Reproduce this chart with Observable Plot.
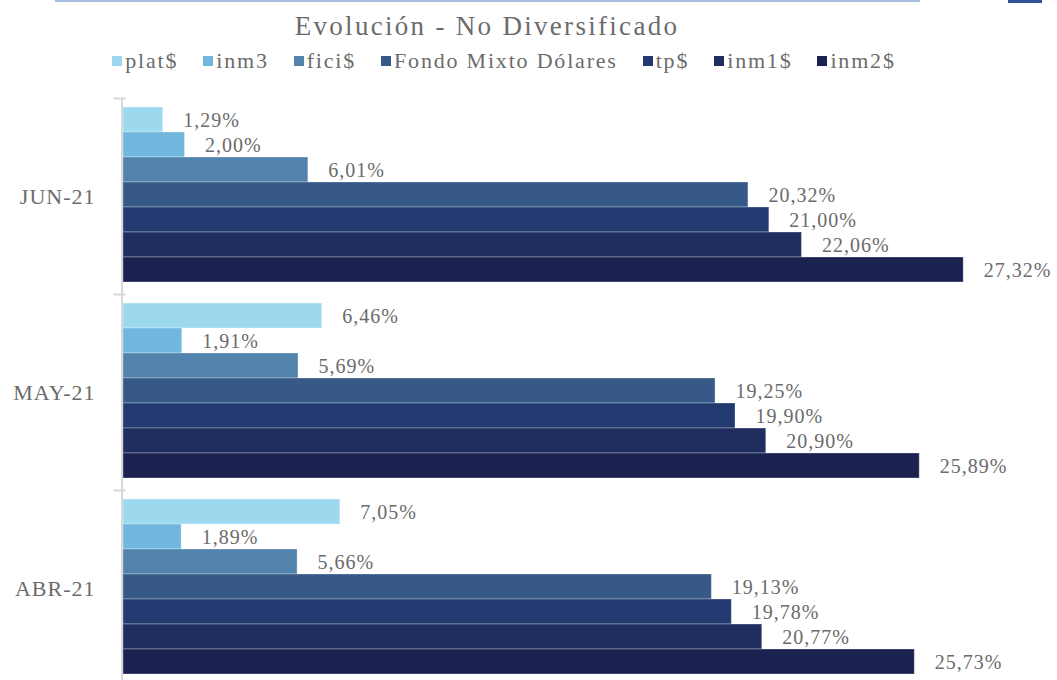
<!DOCTYPE html>
<html>
<head>
<meta charset="utf-8">
<script src="https://cdn.jsdelivr.net/npm/d3@7"></script>
<script src="https://cdn.jsdelivr.net/npm/@observablehq/plot@0.6"></script>
<style>
  html, body { margin: 0; padding: 0; background: #fff; overflow: hidden; }
  #wrap { position: relative; width: 1057px; height: 680px; font-family: "Liberation Serif", serif; color: #6b6b6b; }
  .bar1 { position: absolute; left: 55px; top: 0; width: 865px; height: 2px; background: #a9bde0; }
  .bar2 { position: absolute; left: 1008px; top: 0; width: 34px; height: 3px; background: #2f4f97; }
  #title { position: absolute; left: 0; top: 8px; width: 974px; text-align: center; font-size: 27px; line-height: 36px; letter-spacing: 2.3px; color: #6b6b6b; }
  #legend { position: absolute; left: 0; top: 46px; width: 1008px; display: flex; justify-content: center; gap: 25px; font-size: 22px; line-height: 30px; letter-spacing: 1.8px; color: #6b6b6b; white-space: nowrap; }
  #legend .item { display: flex; align-items: center; }
  #legend .sw { width: 10px; height: 10px; margin-right: 3px; display: inline-block; }
  #chart { position: absolute; left: 0; top: 97px; }
</style>
</head>
<body>
<div id="wrap">
  <div class="bar1"></div>
  <div class="bar2"></div>
  <div id="title">Evolución - No Diversificado</div>
  <div id="legend"></div>
  <div id="chart"></div>
</div>
<script>
const categories = ["JUN-21", "MAY-21", "ABR-21"];
const series = ["plat$", "inm3", "fici$", "Fondo Mixto Dólares", "tp$", "inm1$", "inm2$"];
const valuesJun = [1.29, 2.00, 6.01, 20.32, 21.00, 22.06, 27.32];
const valuesMay = [6.46, 1.91, 5.69, 19.25, 19.90, 20.90, 25.89];
const valuesAbr = [7.05, 1.89, 5.66, 19.13, 19.78, 20.77, 25.73];
const colors = ["#9dd9ee", "#6fb7dc", "#5283ad", "#365987", "#223a70", "#202e5f", "#1c2250"];

const byCategory = [valuesJun, valuesMay, valuesAbr];
const data = [];
categories.forEach((c, i) => {
  series.forEach((s, j) => data.push({cat: c, series: s, value: byCategory[i][j]}));
});

// legend
const legend = document.getElementById("legend");
series.forEach((s, j) => {
  const it = document.createElement("span");
  it.className = "item";
  const sw = document.createElement("span");
  sw.className = "sw";
  sw.style.background = colors[j];
  it.appendChild(sw);
  it.appendChild(document.createTextNode(s));
  legend.appendChild(it);
});

const W = 1057, ML = 123, MR = 0;
const fmt = v => v.toFixed(2).replace(".", ",") + "%";
const gray = "#6b6b6b";

const chart = Plot.plot({
  width: W,
  height: 590,
  marginLeft: ML,
  marginRight: MR,
  marginTop: 0,
  marginBottom: 0,
  style: {fontFamily: "'Liberation Serif', serif", background: "transparent", letterSpacing: "1px"},
  x: {domain: [0, 30.37], axis: null},
  y: {domain: series, axis: null, paddingInner: 0, paddingOuter: 0.31, align: 0.45},
  fy: {domain: categories, padding: 0, axis: null},
  color: {domain: series, range: colors},
  marks: [
    Plot.barX(data, {x: "value", y: "series", fy: "cat", fill: "series", stroke: "white", strokeOpacity: 0.3, strokeWidth: 1}),
    Plot.text(data, {x: "value", y: "series", fy: "cat", text: d => fmt(d.value), dx: 20, dy: 1, textAnchor: "start", fill: gray, fontSize: 20}),
    Plot.ruleX([0], {stroke: "#d9d9d9", strokeWidth: 2, dx: -1.5}),
    Plot.frame({anchor: "top", insetLeft: -9, insetRight: W - ML - MR - 1, stroke: "#d9d9d9", strokeWidth: 2}),
    Plot.axisFy({anchor: "left", tickSize: 0, tickPadding: 28, fontSize: 22, fill: gray, label: null})
  ]
});
document.getElementById("chart").appendChild(chart);
</script>
</body>
</html>
